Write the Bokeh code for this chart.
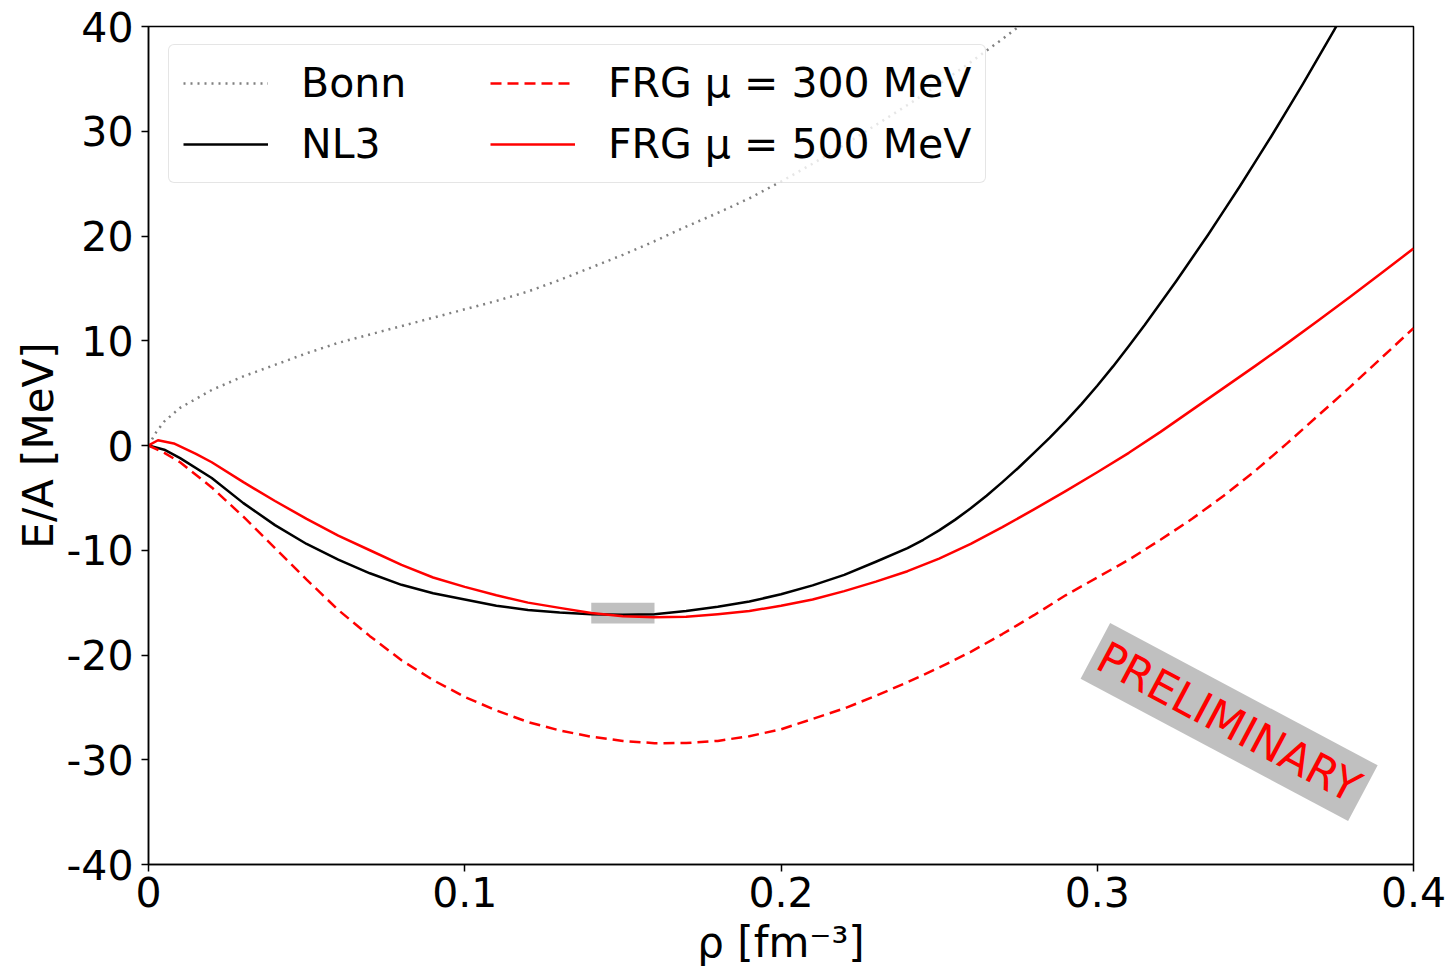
from bokeh.plotting import figure
from bokeh.models import Range1d, FixedTicker, Legend, LegendItem, Label
from bokeh.embed import file_html
from bokeh.resources import INLINE

# ---------------- data ----------------
bonn_rho = [0, 0.0025, 0.005, 0.01, 0.02, 0.03, 0.04, 0.05, 0.06, 0.07, 0.08, 0.09, 0.10,
            0.11, 0.12, 0.13, 0.14, 0.15, 0.16, 0.17, 0.18, 0.19, 0.20, 0.21, 0.22, 0.23,
            0.24, 0.25, 0.26, 0.27, 0.28]
bonn_ea = [0, 1.3, 2.3, 3.6, 5.3, 6.6, 7.7, 8.8, 9.8, 10.6, 11.4, 12.2, 13.0,
           13.8, 14.7, 15.8, 17.0, 18.2, 19.5, 20.9, 22.2, 23.6, 25.2, 26.9, 28.7, 30.6,
           32.5, 34.5, 36.6, 38.8, 41.1]

nl3_rho = [0, 0.005, 0.01, 0.02, 0.03, 0.04, 0.05, 0.06, 0.07, 0.08, 0.09, 0.10, 0.11,
           0.12, 0.13, 0.14, 0.15, 0.16, 0.17, 0.18, 0.19, 0.20, 0.21, 0.22, 0.23, 0.24,
           0.245, 0.25, 0.255, 0.26, 0.265, 0.27, 0.275, 0.28, 0.285, 0.29, 0.295, 0.30,
           0.305, 0.31, 0.315, 0.32, 0.325, 0.33, 0.335, 0.34, 0.345, 0.35, 0.355, 0.36,
           0.365, 0.37, 0.375, 0.38]
nl3_ea = [0, -0.4, -1.2, -3.1, -5.5, -7.6, -9.4, -10.9, -12.2, -13.3, -14.1, -14.7, -15.3,
          -15.7, -15.95, -16.1, -16.15, -16.1, -15.8, -15.4, -14.9, -14.2, -13.35, -12.35,
          -11.1, -9.8, -9.0, -8.1, -7.1, -6.0, -4.8, -3.5, -2.15, -0.7, 0.75, 2.3, 3.95,
          5.7, 7.55, 9.5, 11.5, 13.6, 15.7, 17.9, 20.1, 22.4, 24.7, 27.1, 29.5, 32.0,
          34.5, 37.1, 39.7, 42.4]

frg300_rho = [0, 0.005, 0.01, 0.02, 0.03, 0.04, 0.05, 0.06, 0.07, 0.08, 0.09, 0.10, 0.11,
              0.12, 0.13, 0.14, 0.15, 0.16, 0.17, 0.18, 0.19, 0.20, 0.21, 0.22, 0.23, 0.24,
              0.25, 0.26, 0.27, 0.28, 0.29, 0.30, 0.31, 0.32, 0.33, 0.34, 0.35, 0.36, 0.37,
              0.38, 0.39, 0.40]
frg300_ea = [0, -0.7, -1.6, -4.0, -6.8, -9.8, -12.8, -15.7, -18.2, -20.5, -22.4, -24.0, -25.3,
             -26.4, -27.2, -27.8, -28.2, -28.42, -28.4, -28.2, -27.75, -27.1, -26.1, -25.1,
             -23.9, -22.6, -21.2, -19.7, -18.0, -16.2, -14.3, -12.6, -10.9, -9.0, -7.0, -4.8,
             -2.4, 0.2, 2.9, 5.6, 8.4, 11.2]

frg500_rho = [0, 0.003, 0.008, 0.015, 0.02, 0.03, 0.04, 0.05, 0.06, 0.07, 0.08, 0.09, 0.10,
              0.11, 0.12, 0.13, 0.14, 0.15, 0.16, 0.17, 0.18, 0.19, 0.20, 0.21, 0.22, 0.23,
              0.24, 0.25, 0.26, 0.27, 0.28, 0.29, 0.30, 0.31, 0.32, 0.33, 0.34, 0.35, 0.36,
              0.37, 0.38, 0.39, 0.40]
frg500_ea = [0, 0.5, 0.2, -0.8, -1.6, -3.5, -5.3, -7.0, -8.6, -10.0, -11.4, -12.6, -13.5,
             -14.3, -15.0, -15.5, -16.0, -16.3, -16.4, -16.35, -16.1, -15.8, -15.3, -14.7,
             -13.9, -13.0, -12.0, -10.8, -9.4, -7.8, -6.1, -4.35, -2.55, -0.7, 1.3, 3.4, 5.5,
             7.6, 9.75, 11.95, 14.2, 16.5, 18.8]

# saturation region box
sat_rho = [0.14, 0.16]
sat_ea = [-17, -15]

series_labels = ["Bonn", "NL3", "FRG μ = 300 MeV", "FRG μ = 500 MeV"]

x_ticks = [0, 0.1, 0.2, 0.3, 0.4]
x_tick_labels = ["0", "0.1", "0.2", "0.3", "0.4"]
y_ticks = [-40, -30, -20, -10, 0, 10, 20, 30, 40]
y_tick_labels = ["-40", "-30", "-20", "-10", "0", "10", "20", "30", "40"]

# ---------------- figure ----------------
FONT = "DejaVu Sans"
FS_TICK = "41px"
FS_LABEL = "42px"

p = figure(width=1449, height=970, x_range=Range1d(0, 0.4), y_range=Range1d(-40, 40),
           output_backend="svg", toolbar_location=None,
           min_border_left=148, min_border_right=36, min_border_top=26, min_border_bottom=106)
p.xgrid.visible = False
p.ygrid.visible = False
p.outline_line_color = "black"
p.outline_line_width = 1.5
p.outline_line_alpha = 1.0
p.background_fill_color = "white"
p.border_fill_color = "white"

p.xaxis.ticker = FixedTicker(ticks=x_ticks)
p.yaxis.ticker = FixedTicker(ticks=y_ticks)
p.xaxis.major_label_overrides = {t: l for t, l in zip(x_ticks, x_tick_labels)}
p.yaxis.major_label_overrides = {t: l for t, l in zip(y_ticks, y_tick_labels)}
p.xaxis.axis_label = "ρ [fm⁻³]"
p.yaxis.axis_label = "E/A [MeV]"

for ax in (p.xaxis[0], p.yaxis[0]):
    ax.axis_line_width = 1.5
    ax.axis_line_color = "black"
    ax.major_tick_line_width = 1.5
    ax.major_tick_line_color = "black"
    ax.major_tick_out = 7
    ax.major_tick_in = 0
    ax.minor_tick_out = 0
    ax.minor_tick_in = 0
    ax.major_label_text_font = FONT
    ax.major_label_text_font_size = FS_TICK
    ax.major_label_text_color = "black"
    ax.axis_label_text_font = FONT
    ax.axis_label_text_font_size = FS_LABEL
    ax.axis_label_text_font_style = "normal"
    ax.axis_label_text_color = "black"

p.xaxis.major_label_standoff = 5
p.xaxis.axis_label_standoff = 8
p.yaxis.major_label_standoff = 8
p.yaxis.axis_label_standoff = 1

# saturation box
p.quad(left=[sat_rho[0]], right=[sat_rho[1]], bottom=[sat_ea[0]], top=[sat_ea[1]],
       fill_color="#c0c0c0", line_color=None)

r_bonn = p.line(bonn_rho, bonn_ea, line_color="#808080", line_width=2.5, line_dash="2 5")
r_nl3 = p.line(nl3_rho, nl3_ea, line_color="black", line_width=2.5, line_join="round")
r_300 = p.line(frg300_rho, frg300_ea, line_color="#ff0000", line_width=2.5, line_dash="11 6")
r_500 = p.line(frg500_rho, frg500_ea, line_color="#ff0000", line_width=2.5, line_join="round")

legend = Legend(items=[LegendItem(label=series_labels[0], renderers=[r_bonn]),
                       LegendItem(label=series_labels[1], renderers=[r_nl3]),
                       LegendItem(label=series_labels[2], renderers=[r_300]),
                       LegendItem(label=series_labels[3], renderers=[r_500])],
                location=(20, 681), orientation="vertical", ncols=2)
legend.label_text_font = FONT
legend.label_text_font_size = FS_TICK
legend.label_text_color = "black"
legend.glyph_width = 85
legend.glyph_height = 48
legend.label_height = 48
legend.label_width = 176
legend.label_standoff = 33
legend.spacing = 13
legend.padding = 14
legend.margin = 0
legend.border_line_color = "#cccccc"
legend.border_line_width = 1.5
legend.background_fill_color = "white"
legend.background_fill_alpha = 0.8
try:
    legend.border_radius = 6
except Exception:
    pass
p.add_layout(legend)

prelim = Label(x=0.3417, y=-26.4, text="PRELIMINARY", angle=-28, angle_units="deg",
               text_align="center", text_baseline="middle", text_color="#ff0000",
               text_font=FONT, text_font_size="44px",
               background_fill_color="#c0c0c0", background_fill_alpha=1.0, padding=6)
p.add_layout(prelim)

open("out.html", "w").write(file_html(p, INLINE))
